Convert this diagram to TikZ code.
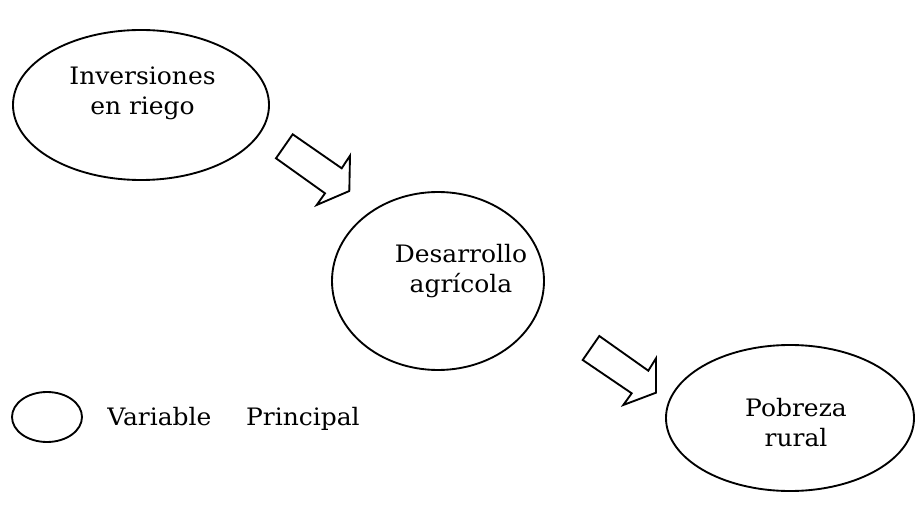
\documentclass[tikz,border=0pt]{standalone}
\usepackage{fontspec}
\setmainfont{DejaVu Serif}[FakeStretch=1.04]
\usetikzlibrary{shapes.geometric}
\begin{document}
\begin{tikzpicture}[x=0.75pt,y=-0.75pt,
  var/.style={draw,line width=1.4pt,ellipse,inner sep=0pt},
  lbl/.style={font=\fontsize{18}{22.5}\selectfont,inner sep=0pt},
  bigarrow/.style={draw,line width=1.4pt,line join=miter,fill=white}]
\useasboundingbox (0,0) rectangle (917,513);
\node[var,minimum width=192pt,minimum height=112.5pt] (inv) at (141,105) {};
\node[lbl,align=center] (invt) at (142.5,93) {Inversiones\\en riego};
\node[var,minimum width=159pt,minimum height=133.5pt] (des) at (438,281) {};
\node[lbl,align=center] (dest) at (461,271) {Desarrollo\\agrícola};
\node[var,minimum width=186pt,minimum height=109.5pt] (pob) at (790,418) {};
\node[lbl,align=center] (pobt) at (796,423) {Pobreza\\rural};
\node[var,minimum width=52.5pt,minimum height=37.5pt] (leg) at (47,417) {};
\node[lbl,anchor=base west] (legt) at (107,425) {Variable\hspace*{26pt}Principal};
\draw[bigarrow] (292.7,134.3) -- (341.7,168.3) -- (350,155.7) -- (349.3,191) -- (316.7,205) -- (325,193.3) -- (276,158.3) -- cycle;
\draw[bigarrow] (599.3,336) -- (648.3,370.7) -- (656,358.3) -- (656,392.7) -- (623.3,405) -- (631.7,393.3) -- (582.7,360) -- cycle;
\end{tikzpicture}
\end{document}
